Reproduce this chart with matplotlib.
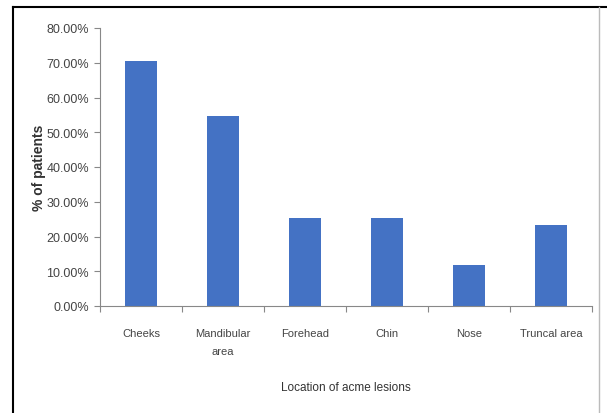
import matplotlib.pyplot as plt
from matplotlib.lines import Line2D
from matplotlib.ticker import FuncFormatter

plt.rcParams['font.family'] = ['Liberation Sans Narrow', 'Liberation Sans', 'DejaVu Sans']

# data
locations = ['Cheeks', 'Mandibular\narea', 'Forehead', 'Chin', 'Nose', 'Truncal area']
percent = [70.4, 54.8, 25.3, 25.3, 11.9, 23.2]

fig = plt.figure(figsize=(6.07, 4.14), dpi=100)
ax = fig.add_axes([100/607, 1-307/414, 492/607, 278/414])

x = range(len(locations))
ax.bar(x, percent, width=0.39, color='#4472C4')

ax.set_xlim(-0.5, len(locations) - 0.5)
ax.set_ylim(0, 80)
ax.set_yticks(range(0, 81, 10))
ax.yaxis.set_major_formatter(FuncFormatter(lambda v, p: '%.2f%%' % v))
ax.set_xticks([i - 0.5 for i in range(len(locations) + 1)])
ax.set_xticklabels([])
ax.set_xticks(list(x), minor=True)
ax.set_xticklabels(locations, minor=True, linespacing=2.0)
ax.tick_params(axis='x', which='minor', length=0, pad=16)
ax.tick_params(axis='x', which='major', length=4, color='#888888')
ax.tick_params(axis='y', length=4, color='#888888', pad=4)
ax.tick_params(which='both', labelsize=8, labelcolor='#444444')
ax.tick_params(axis='y', labelsize=9)

for s in ['top', 'right']:
    ax.spines[s].set_visible(False)
ax.spines['left'].set_color('#888888')
ax.spines['bottom'].set_color('#888888')

ax.set_ylabel('% of patients', fontsize=10, fontweight='bold', labelpad=0, color='#333333')
ax.set_xlabel('Location of acme lesions', fontsize=8.5, labelpad=18, color='#333333')

# frame around the chart
fig.add_artist(Line2D([13/607, 13/607], [0, 1-8/414], color='black', lw=1.5))
fig.add_artist(Line2D([13/607, 1], [1-8/414, 1-8/414], color='black', lw=1.5))
fig.add_artist(Line2D([599/607, 599/607], [0, 1-8/414], color='#bbbbbb', lw=1))

fig.savefig('out.png', dpi=100)
